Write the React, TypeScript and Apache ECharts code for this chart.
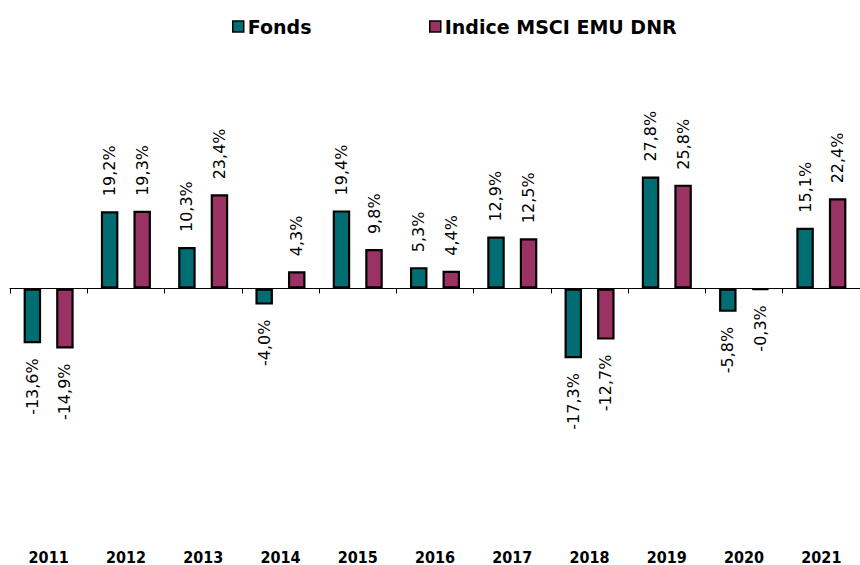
import React, { useEffect, useRef } from "react";
import * as echarts from "echarts";

const years = ["2011", "2012", "2013", "2014", "2015", "2016", "2017", "2018", "2019", "2020", "2021"];
const fonds = [-13.6, 19.2, 10.3, -4.0, 19.4, 5.3, 12.9, -17.3, 27.8, -5.8, 15.1];
const indice = [-14.9, 19.3, 23.4, 4.3, 9.8, 4.4, 12.5, -12.7, 25.8, -0.3, 22.4];
const seriesNames = ["Fonds", "Indice MSCI EMU DNR"];
const colors = ["#006D72", "#9A3363"];

const fmt = (v: number) => v.toFixed(1).replace(".", ",") + "%";

const labelFont = "'DejaVu Sans', Verdana, sans-serif";

function toData(vals: number[]) {
  return vals.map((v) => ({
    value: v,
    label:
      v >= 0
        ? { position: "top", align: "left", verticalAlign: "middle" }
        : { position: "bottom", align: "right", verticalAlign: "middle" },
  }));
}

export default function App() {
  const ref = useRef<HTMLDivElement>(null);
  useEffect(() => {
    if (!ref.current) return;
    const chart = echarts.init(ref.current, null, { renderer: "svg" });
    const mkSeries = (i: number, vals: number[]) => ({
      name: seriesNames[i],
      type: "bar",
      xAxisIndex: 0,
      barWidth: 17.5,
      barGap: "86%",
      itemStyle: { color: colors[i], borderColor: "#000", borderWidth: 2.2 },
      label: {
        show: true,
        rotate: 90,
        distance: 15,
        color: "#000",
        fontSize: 16,
        fontFamily: labelFont,
        formatter: (p: any) => fmt(p.value),
      },
      data: toData(vals),
    });
    const legendText = { fontSize: 19, fontWeight: "bold", color: "#000", fontFamily: labelFont, padding: [0, 0, 0, -1] };
    chart.setOption({
      animation: false,
      backgroundColor: "#fff",
      legend: [
        {
          data: [seriesNames[0]],
          left: 227,
          top: 12,
          itemWidth: 11,
          itemHeight: 11,
          itemGap: 5,
          icon: "rect",
          itemStyle: { borderColor: "#000", borderWidth: 1.5 },
          textStyle: legendText,
        },
        {
          data: [seriesNames[1]],
          left: 424,
          top: 12,
          itemWidth: 11,
          itemHeight: 11,
          itemGap: 5,
          icon: "rect",
          itemStyle: { borderColor: "#000", borderWidth: 1.5 },
          textStyle: legendText,
        },
      ],
      grid: { left: 10, top: 47, width: 861, height: 483, containLabel: false },
      xAxis: [
        {
          type: "category",
          data: years,
          position: "bottom",
          axisLine: { show: true, onZero: true, lineStyle: { color: "#000", width: 1 } },
          axisTick: { show: true, length: 5, alignWithLabel: false, lineStyle: { color: "#000" } },
          axisLabel: { show: false },
          splitLine: { show: false },
        },
        {
          type: "category",
          data: years,
          position: "bottom",
          axisLine: { show: false, onZero: false },
          axisTick: { show: false },
          axisLabel: {
            show: true,
            margin: 19,
            fontSize: 16,
            fontWeight: "bold",
            color: "#000",
            fontFamily: "'Liberation Sans Narrow', 'DejaVu Sans Condensed', 'Arial Narrow', sans-serif",
          },
          splitLine: { show: false },
        },
      ],
      yAxis: {
        type: "value",
        min: -60,
        max: 60,
        show: false,
        splitLine: { show: false },
      },
      series: [mkSeries(0, fonds), mkSeries(1, indice)],
    });
    return () => chart.dispose();
  }, []);
  return (
    <div
      ref={ref}
      style={{ position: "fixed", left: 0, top: 0, width: 860, height: 565, background: "#fff" }}
    />
  );
}
